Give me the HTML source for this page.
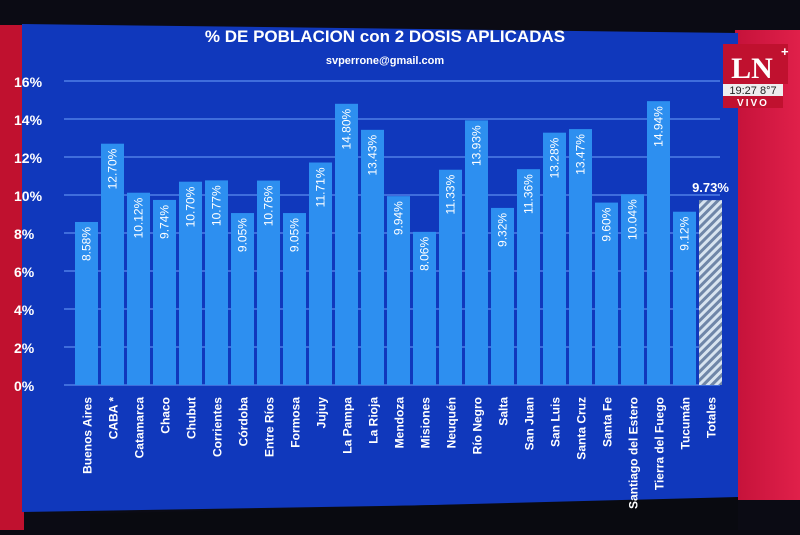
<!DOCTYPE html>
<html><head><meta charset="utf-8"><style>
body{margin:0;width:800px;height:530px;overflow:hidden;background:#0a0a12;font-family:"Liberation Sans",sans-serif}
</style></head><body>
<svg width="800" height="530" viewBox="0 0 800 530" xmlns="http://www.w3.org/2000/svg">
<defs>
<pattern id="hatch" width="6" height="6" patternUnits="userSpaceOnUse" patternTransform="rotate(45)">
<rect width="6" height="6" fill="#d8e4f0"/><rect width="3" height="6" fill="#6f86a8"/>
</pattern>
<linearGradient id="redg" x1="0" x2="1"><stop offset="0" stop-color="#c5123a"/><stop offset="1" stop-color="#e0204a"/></linearGradient>
</defs>
<rect x="0" y="0" width="800" height="530" fill="#0b0b14"/>
<rect x="0" y="25" width="24" height="505" fill="#c0112f"/>
<rect x="735" y="30" width="65" height="470" fill="url(#redg)"/>
<polygon points="22,24 738,33 738,500 22,512" fill="#1038bc"/>
<polygon points="90,514 738,497 738,530 90,530" fill="#090a10"/>
<text x="385" y="42" text-anchor="middle" fill="#fff" font-size="17" font-weight="bold">% DE POBLACION con 2 DOSIS APLICADAS</text>
<text x="385" y="64" text-anchor="middle" fill="#fff" font-size="11" font-weight="bold">svperrone@gmail.com</text>
<g>
<rect x="723" y="44" width="65" height="40" fill="#c0112f"/>
<text x="752" y="78" text-anchor="middle" fill="#fff" font-size="30" font-family="Liberation Serif,serif" font-weight="bold">LN</text>
<text x="781" y="56" fill="#fff" font-size="13" font-weight="bold">+</text>
<rect x="723" y="84" width="60" height="12" fill="#eee"/>
<text x="753" y="94" text-anchor="middle" fill="#222" font-size="11">19:27 8°7</text>
<rect x="723" y="96" width="60" height="12" fill="#c0112f"/>
<text x="753" y="106" text-anchor="middle" fill="#fff" font-size="10" font-weight="bold" letter-spacing="2">VIVO</text>
</g>
<g id="grid"></g>
<g id="bars"></g>
<g id="labels"></g>
</svg>
<script>
const categories=["Buenos Aires","CABA *","Catamarca","Chaco","Chubut","Corrientes","Córdoba","Entre Ríos","Formosa","Jujuy","La Pampa","La Rioja","Mendoza","Misiones","Neuquén","Río Negro","Salta","San Juan","San Luis","Santa Cruz","Santa Fe","Santiago del Estero","Tierra del Fuego","Tucumán","Totales"];
const values=[8.58,12.70,10.12,9.74,10.70,10.77,9.05,10.76,9.05,11.71,14.80,13.43,9.94,8.06,11.33,13.93,9.32,11.36,13.28,13.47,9.60,10.04,14.94,9.12,9.73];
const valueLabels=["8.58%","12.70%","10.12%","9.74%","10.70%","10.77%","9.05%","10.76%","9.05%","11.71%","14.80%","13.43%","9.94%","8.06%","11.33%","13.93%","9.32%","11.36%","13.28%","13.47%","9.60%","10.04%","14.94%","9.12%","9.73%"];
const ticks=[0,2,4,6,8,10,12,14,16];
const NS="http://www.w3.org/2000/svg";
const y0=385,pxPer=19,x0=75,step=26,bw=23;
const yS=v=>y0-v*pxPer;
const xS=i=>x0+i*step;
function mk(t,a,p){const e=document.createElementNS(NS,t);for(const k in a)e.setAttribute(k,a[k]);p.appendChild(e);return e;}
const g=document.getElementById('grid'),b=document.getElementById('bars'),l=document.getElementById('labels');
ticks.forEach(t=>{
 const ln=mk('line',{x1:64,x2:720,y1:yS(t),y2:yS(t),stroke:'#4f7fe6','stroke-width':1.5},g);
 
 
 const tx=mk('text',{x:14,y:yS(t)+6,fill:'#fff','font-size':14,'font-weight':'bold'},g);
 tx.textContent=t+'%';
 
 
});
values.forEach((v,i)=>{
 const tot=i===values.length-1;
 const r=mk('rect',{x:xS(i),y:yS(v),width:bw,height:v*pxPer,fill:tot?'url(#hatch)':'#2d8ff0'},b);
 
 
 const cx=xS(i)+bw/2;
 let t;
 if(tot){
  t=mk('text',{x:cx,y:yS(v)-8,fill:'#fff','font-size':13,'font-weight':'bold','text-anchor':'middle'},l);
 }else{
  t=mk('text',{x:0,y:0,fill:'#fff','font-size':12,'text-anchor':'end',transform:`translate(${cx+4},${yS(v)+5}) rotate(-90)`},l);
 }
 t.textContent=valueLabels[i];
 
 
 const c=mk('text',{x:0,y:0,fill:'#fff','font-size':12,'font-weight':'bold','text-anchor':'end',transform:`translate(${cx+5},${y0+12}) rotate(-90)`},l);
 c.textContent=categories[i];
 
 
});
</script>
</body></html>
